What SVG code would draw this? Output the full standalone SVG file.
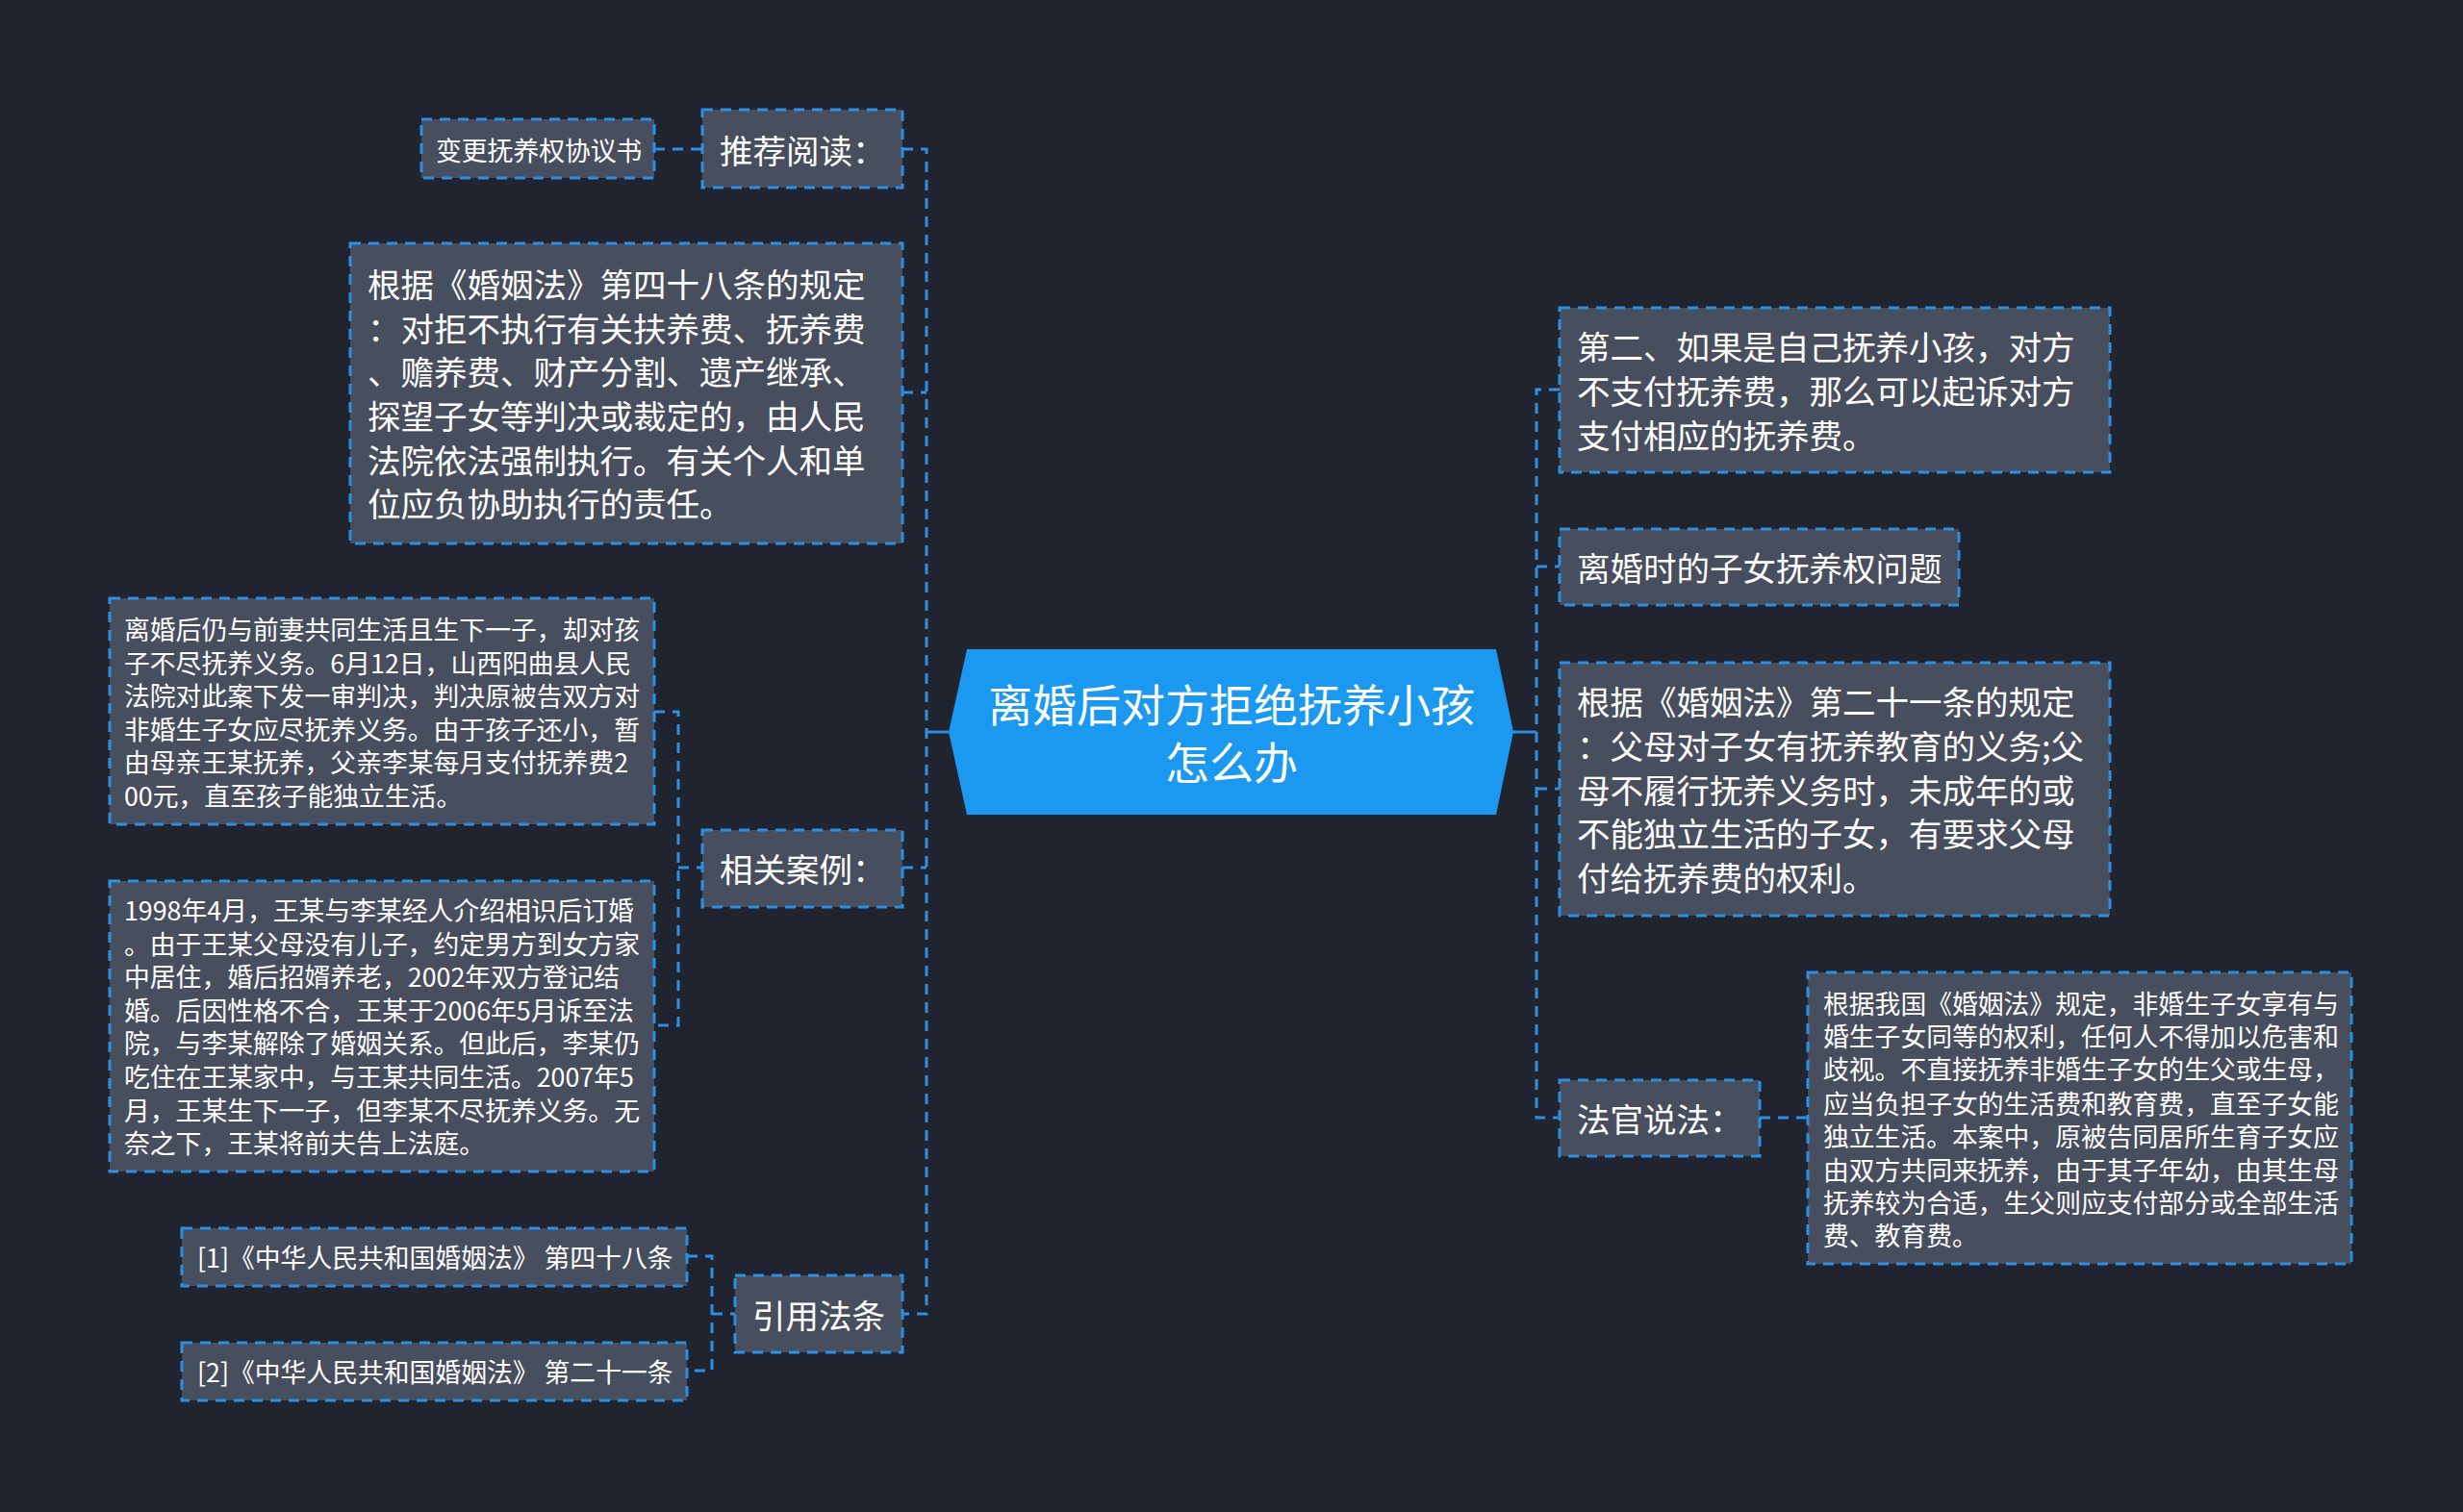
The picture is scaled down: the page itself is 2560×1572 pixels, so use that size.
<svg xmlns="http://www.w3.org/2000/svg" width="2560" height="1572" viewBox="0 0 2560 1572">
<style>
.bg{fill:#20242f}
.box{fill:#474f5e;stroke:#2b8fe3;stroke-width:3;stroke-dasharray:11 8}
.t{fill:#ffffff;font-family:"Noto Sans CJK SC","Noto Sans",sans-serif;dominant-baseline:central}
.L{font-size:34.5px}
.S{font-size:26.8px}
.C{font-size:46px;text-anchor:middle}
.cn{fill:none;stroke:#2b8fe3;stroke-width:3;stroke-dasharray:11 8}
.cs{fill:none;stroke:#2b8fe3;stroke-width:3}
</style>
<rect class="bg" x="0" y="0" width="2560" height="1572"/>
<g id="connectors">
<path class="cs" d="M986,761 H963"/>
<path class="cn" d="M938,155 H963 V1366 H938"/>
<path class="cn" d="M938,408 H963"/>
<path class="cn" d="M938,902 H963"/>
<path class="cn" d="M680,155 H730"/>
<path class="cn" d="M680,740 H705 V1066 H680"/>
<path class="cn" d="M705,902 H730"/>
<path class="cn" d="M714,1306 H740 V1425 H714"/>
<path class="cn" d="M740,1366 H764"/>
<path class="cs" d="M1573,761 H1597"/>
<path class="cn" d="M1621,405 H1597 V1162 H1621"/>
<path class="cn" d="M1597,589 H1621"/>
<path class="cn" d="M1597,820 H1621"/>
<path class="cn" d="M1829,1162 H1879"/>
</g>
<g id="center">
<polygon points="986,761 1005,675 1555,675 1573,761 1555,847 1005,847" fill="#1b98ef"/>
<text class="t C" x="1280" y="730">离婚后对方拒绝抚养小孩</text>
<text class="t C" x="1280" y="790">怎么办</text>
</g>
<g id="n-tuijian">
<rect class="box" x="730" y="114" width="208" height="81"/>
<text class="t L" x="748" y="155">推荐阅读：</text>
</g>
<g id="n-biangeng">
<rect class="box" x="438" y="124" width="242" height="61"/>
<text class="t S" x="453" y="155">变更抚养权协议书</text>
</g>
<g id="n-art48">
<rect class="box" x="364" y="253" width="574" height="312"/>
<text class="t L" x="382" y="294">根据《婚姻法》第四十八条的规定</text>
<text class="t L" x="382" y="340">：对拒不执行有关扶养费、抚养费</text>
<text class="t L" x="382" y="385">、赡养费、财产分割、遗产继承、</text>
<text class="t L" x="382" y="431">探望子女等判决或裁定的，由人民</text>
<text class="t L" x="382" y="477">法院依法强制执行。有关个人和单</text>
<text class="t L" x="382" y="522">位应负协助执行的责任。</text>
</g>
<g id="n-cases">
<rect class="box" x="730" y="863" width="208" height="80"/>
<text class="t L" x="748" y="902">相关案例：</text>
</g>
<g id="n-case1">
<rect class="box" x="114" y="622" width="566" height="235"/>
<text class="t S" x="129" y="653">离婚后仍与前妻共同生活且生下一子，却对孩</text>
<text class="t S" x="129" y="688">子不尽抚养义务。6月12日，山西阳曲县人民</text>
<text class="t S" x="129" y="722">法院对此案下发一审判决，判决原被告双方对</text>
<text class="t S" x="129" y="757">非婚生子女应尽抚养义务。由于孩子还小，暂</text>
<text class="t S" x="129" y="791">由母亲王某抚养，父亲李某每月支付抚养费2</text>
<text class="t S" x="129" y="826">00元，直至孩子能独立生活。</text>
</g>
<g id="n-case2">
<rect class="box" x="114" y="916" width="566" height="302"/>
<text class="t S" x="129" y="945">1998年4月，王某与李某经人介绍相识后订婚</text>
<text class="t S" x="129" y="980">。由于王某父母没有儿子，约定男方到女方家</text>
<text class="t S" x="129" y="1014">中居住，婚后招婿养老，2002年双方登记结</text>
<text class="t S" x="129" y="1049">婚。后因性格不合，王某于2006年5月诉至法</text>
<text class="t S" x="129" y="1083">院，与李某解除了婚姻关系。但此后，李某仍</text>
<text class="t S" x="129" y="1118">吃住在王某家中，与王某共同生活。2007年5</text>
<text class="t S" x="129" y="1153">月，王某生下一子，但李某不尽抚养义务。无</text>
<text class="t S" x="129" y="1187">奈之下，王某将前夫告上法庭。</text>
</g>
<g id="n-refs">
<rect class="box" x="764" y="1326" width="174" height="80"/>
<text class="t L" x="782" y="1366">引用法条</text>
</g>
<g id="n-ref1">
<rect class="box" x="189" y="1277" width="525" height="60"/>
<text class="t S" x="205" y="1306">[1]《中华人民共和国婚姻法》 第四十八条</text>
</g>
<g id="n-ref2">
<rect class="box" x="189" y="1396" width="525" height="60"/>
<text class="t S" x="205" y="1425">[2]《中华人民共和国婚姻法》 第二十一条</text>
</g>
<g id="n-r1">
<rect class="box" x="1621" y="320" width="572" height="171"/>
<text class="t L" x="1639" y="359">第二、如果是自己抚养小孩，对方</text>
<text class="t L" x="1639" y="405">不支付抚养费，那么可以起诉对方</text>
<text class="t L" x="1639" y="451">支付相应的抚养费。</text>
</g>
<g id="n-r2">
<rect class="box" x="1621" y="550" width="415" height="79"/>
<text class="t L" x="1639" y="589">离婚时的子女抚养权问题</text>
</g>
<g id="n-r3">
<rect class="box" x="1621" y="689" width="572" height="263"/>
<text class="t L" x="1639" y="728">根据《婚姻法》第二十一条的规定</text>
<text class="t L" x="1639" y="774">：父母对子女有抚养教育的义务;父</text>
<text class="t L" x="1639" y="820">母不履行抚养义务时，未成年的或</text>
<text class="t L" x="1639" y="865">不能独立生活的子女，有要求父母</text>
<text class="t L" x="1639" y="911">付给抚养费的权利。</text>
</g>
<g id="n-r4">
<rect class="box" x="1621" y="1123" width="208" height="79"/>
<text class="t L" x="1639" y="1162">法官说法：</text>
</g>
<g id="n-r5">
<rect class="box" x="1879" y="1011" width="565" height="303"/>
<text class="t S" x="1895" y="1042">根据我国《婚姻法》规定，非婚生子女享有与</text>
<text class="t S" x="1895" y="1076">婚生子女同等的权利，任何人不得加以危害和</text>
<text class="t S" x="1895" y="1110">歧视。不直接抚养非婚生子女的生父或生母，</text>
<text class="t S" x="1895" y="1146">应当负担子女的生活费和教育费，直至子女能</text>
<text class="t S" x="1895" y="1180">独立生活。本案中，原被告同居所生育子女应</text>
<text class="t S" x="1895" y="1215">由双方共同来抚养，由于其子年幼，由其生母</text>
<text class="t S" x="1895" y="1249">抚养较为合适，生父则应支付部分或全部生活</text>
<text class="t S" x="1895" y="1283">费、教育费。</text>
</g>
</svg>
